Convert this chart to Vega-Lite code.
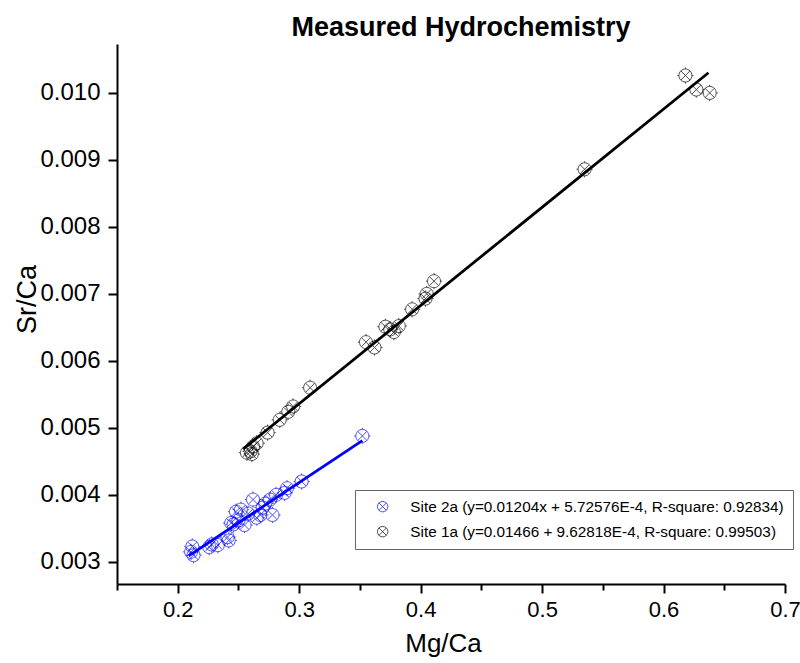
{
  "$schema": "https://vega.github.io/schema/vega-lite/v6.json",
  "width": 668,
  "height": 540,
  "autosize": {"type": "none"},
  "padding": {"left": 117, "top": 44, "right": 15, "bottom": 79},
  "background": "white",
  "config": {"view": {"stroke": null}, "font": "Liberation Sans"},
  "title": {"text": "Measured Hydrochemistry", "fontSize": 27, "fontWeight": "bold", "font": "Liberation Sans", "anchor": "middle", "dx": 10, "offset": 2, "color": "#000000"},
  "datasets": {
    "pts": [
      {"site": "Site 1a", "mg": 0.618, "sr": 0.01026},
      {"site": "Site 1a", "mg": 0.627, "sr": 0.01005},
      {"site": "Site 1a", "mg": 0.638, "sr": 0.01000},
      {"site": "Site 1a", "mg": 0.535, "sr": 0.00886},
      {"site": "Site 1a", "mg": 0.411, "sr": 0.00719},
      {"site": "Site 1a", "mg": 0.405, "sr": 0.00700},
      {"site": "Site 1a", "mg": 0.404, "sr": 0.00693},
      {"site": "Site 1a", "mg": 0.393, "sr": 0.00677},
      {"site": "Site 1a", "mg": 0.382, "sr": 0.00652},
      {"site": "Site 1a", "mg": 0.378, "sr": 0.00643},
      {"site": "Site 1a", "mg": 0.375, "sr": 0.00647},
      {"site": "Site 1a", "mg": 0.371, "sr": 0.00651},
      {"site": "Site 1a", "mg": 0.362, "sr": 0.00620},
      {"site": "Site 1a", "mg": 0.355, "sr": 0.00628},
      {"site": "Site 1a", "mg": 0.309, "sr": 0.00560},
      {"site": "Site 1a", "mg": 0.295, "sr": 0.00532},
      {"site": "Site 1a", "mg": 0.291, "sr": 0.00524},
      {"site": "Site 1a", "mg": 0.284, "sr": 0.00512},
      {"site": "Site 1a", "mg": 0.274, "sr": 0.00493},
      {"site": "Site 1a", "mg": 0.265, "sr": 0.00477},
      {"site": "Site 1a", "mg": 0.262, "sr": 0.00472},
      {"site": "Site 1a", "mg": 0.260, "sr": 0.00465},
      {"site": "Site 1a", "mg": 0.257, "sr": 0.00463},
      {"site": "Site 1a", "mg": 0.261, "sr": 0.00461},
      {"site": "Site 2a", "mg": 0.352, "sr": 0.00488},
      {"site": "Site 2a", "mg": 0.302, "sr": 0.00420},
      {"site": "Site 2a", "mg": 0.290, "sr": 0.00410},
      {"site": "Site 2a", "mg": 0.288, "sr": 0.00403},
      {"site": "Site 2a", "mg": 0.281, "sr": 0.00400},
      {"site": "Site 2a", "mg": 0.276, "sr": 0.00393},
      {"site": "Site 2a", "mg": 0.272, "sr": 0.00387},
      {"site": "Site 2a", "mg": 0.270, "sr": 0.00381},
      {"site": "Site 2a", "mg": 0.268, "sr": 0.00370},
      {"site": "Site 2a", "mg": 0.265, "sr": 0.00366},
      {"site": "Site 2a", "mg": 0.262, "sr": 0.00393},
      {"site": "Site 2a", "mg": 0.258, "sr": 0.00372},
      {"site": "Site 2a", "mg": 0.252, "sr": 0.00378},
      {"site": "Site 2a", "mg": 0.250, "sr": 0.00362},
      {"site": "Site 2a", "mg": 0.248, "sr": 0.00375},
      {"site": "Site 2a", "mg": 0.246, "sr": 0.00356},
      {"site": "Site 2a", "mg": 0.244, "sr": 0.00358},
      {"site": "Site 2a", "mg": 0.241, "sr": 0.00337},
      {"site": "Site 2a", "mg": 0.242, "sr": 0.00332},
      {"site": "Site 2a", "mg": 0.233, "sr": 0.00325},
      {"site": "Site 2a", "mg": 0.228, "sr": 0.00326},
      {"site": "Site 2a", "mg": 0.226, "sr": 0.00322},
      {"site": "Site 2a", "mg": 0.212, "sr": 0.00323},
      {"site": "Site 2a", "mg": 0.211, "sr": 0.00315},
      {"site": "Site 2a", "mg": 0.213, "sr": 0.00310},
      {"site": "Site 2a", "mg": 0.255, "sr": 0.00355},
      {"site": "Site 2a", "mg": 0.278, "sr": 0.00370}
    ],
    "fits": [
      {"site": "Site 1a", "mg": 0.254, "sr": 0.004687},
      {"site": "Site 1a", "mg": 0.637, "sr": 0.010301},
      {"site": "Site 2a", "mg": 0.209, "sr": 0.003089},
      {"site": "Site 2a", "mg": 0.352, "sr": 0.004811}
    ]
  },
  "layer": [
    {
      "data": {"name": "pts"},
      "mark": {"type": "point", "filled": false, "strokeWidth": 1, "size": 169,
        "shape": "M-1,0A1,1,0,1,0,1,0A1,1,0,1,0,-1,0M-0.72,-0.72L0.72,0.72M-0.72,0.72L0.72,-0.72M0,-1L0,-1.25M0,1L0,1.25M-1,0L-1.25,0M1,0L1.25,0"},
      "encoding": {
        "x": {"field": "mg", "type": "quantitative",
          "scale": {"domain": [0.15, 0.7], "nice": false, "zero": false},
          "axis": {
            "title": "Mg/Ca", "titleFontSize": 26, "titleFontWeight": "normal", "titleColor": "#000", "titlePadding": 10, "titleX": 326,
            "values": [0.15, 0.2, 0.25, 0.3, 0.35, 0.4, 0.45, 0.5, 0.55, 0.6, 0.65, 0.7],
            "labelExpr": "round(datum.value*100) % 10 == 0 ? format(datum.value, '.1f') : ''",
            "labelFontSize": 22, "labelColor": "#000", "labelPadding": 6, "labelFlush": false, "labelOverlap": false,
            "grid": false, "domainColor": "#000", "domainWidth": 2, "tickColor": "#000", "tickWidth": 2,
            "tickSize": {"condition": {"test": "round(datum.value*100) % 10 == 0", "value": 9}, "value": 6}
          }
        },
        "y": {"field": "sr", "type": "quantitative",
          "scale": {"domain": [0.00267, 0.01073], "nice": false, "zero": false},
          "axis": {
            "title": "Sr/Ca", "titleFontSize": 27, "titleFontWeight": "normal", "titleColor": "#000", "titlePadding": -2, "titleY": 255,
            "values": [0.003, 0.0035, 0.004, 0.0045, 0.005, 0.0055, 0.006, 0.0065, 0.007, 0.0075, 0.008, 0.0085, 0.009, 0.0095, 0.01, 0.0105],
            "labelExpr": "round(datum.value*10000) % 10 == 0 ? format(datum.value, '.3f') : ''",
            "labelFontSize": 24, "labelColor": "#000", "labelPadding": 8, "labelFlush": false, "labelOverlap": false,
            "grid": false, "domainColor": "#000", "domainWidth": 2, "tickColor": "#000", "tickWidth": 2,
            "tickSize": {"condition": {"test": "round(datum.value*10000) % 10 == 0", "value": 9}, "value": 5}
          }
        },
        "color": {"field": "site", "type": "nominal",
          "scale": {"domain": ["Site 2a", "Site 1a"], "range": ["#0000FF", "#000000"]},
          "legend": {
            "title": null, "orient": "none", "legendX": 238, "legendY": 446,
            "strokeColor": "#666666", "padding": 9, "fillColor": "white",
            "symbolType": "M-1,0A1,1,0,1,0,1,0A1,1,0,1,0,-1,0M-0.72,-0.72L0.72,0.72M-0.72,0.72L0.72,-0.72",
            "symbolSize": 110, "symbolStrokeWidth": 1, "symbolOffset": 11,
            "labelFontSize": 15.3, "labelColor": "#000", "labelLimit": 600, "labelOffset": 20, "rowPadding": 9,
            "labelExpr": "datum.label == 'Site 2a' ? 'Site 2a (y=0.01204x + 5.72576E-4, R-square: 0.92834)' : 'Site 1a (y=0.01466 + 9.62818E-4, R-square: 0.99503)'"
          }
        }
      }
    },
    {
      "data": {"name": "fits"},
      "mark": {"type": "line", "strokeWidth": 2.8},
      "encoding": {
        "x": {"field": "mg", "type": "quantitative"},
        "y": {"field": "sr", "type": "quantitative"},
        "detail": {"field": "site", "type": "nominal"},
        "stroke": {"field": "site", "type": "nominal",
          "scale": {"domain": ["Site 2a", "Site 1a"], "range": ["#0000FF", "#000000"]},
          "legend": null}
      }
    }
  ]
}
